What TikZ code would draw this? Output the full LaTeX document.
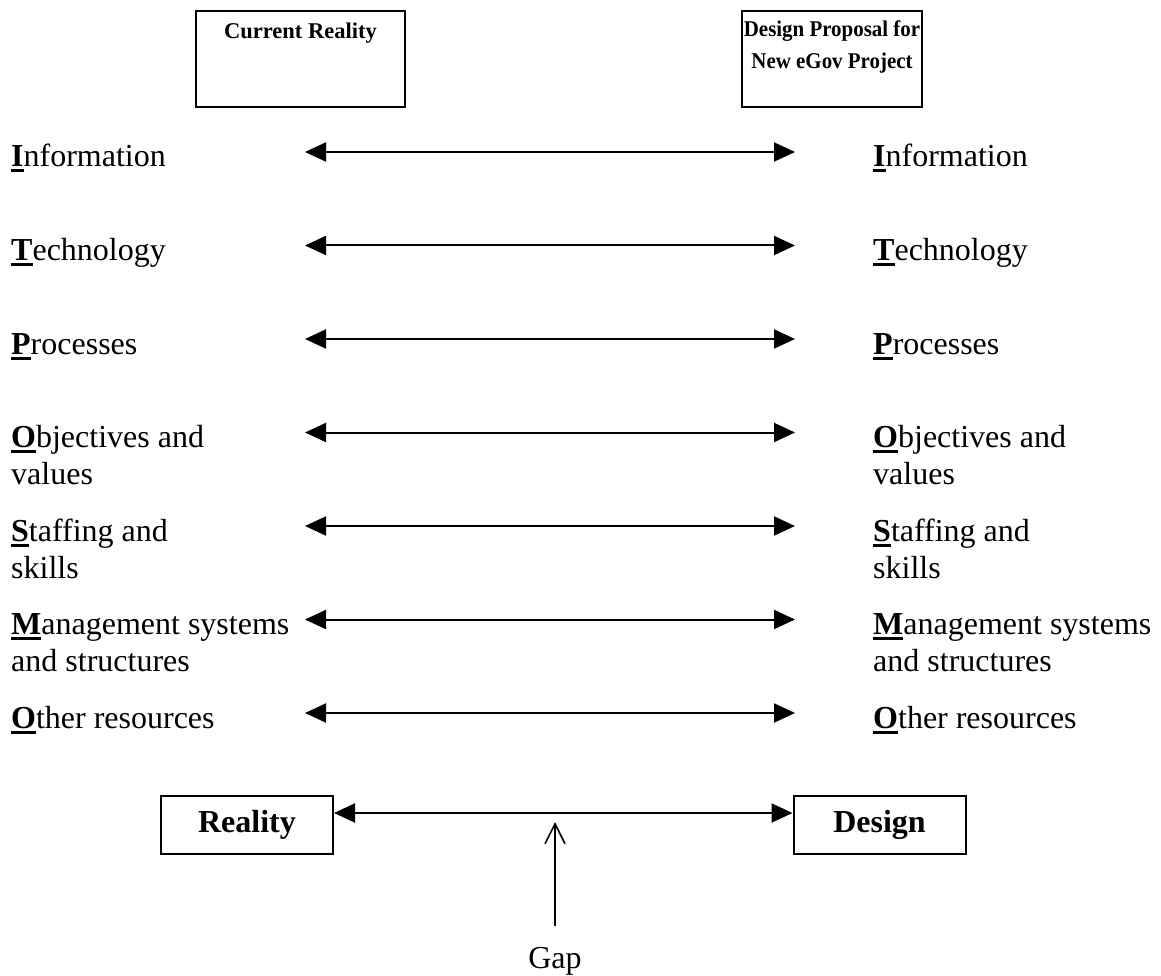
\documentclass[tikz,border=0pt]{standalone}
\usepackage{fontspec}
\setmainfont{Liberation Serif}
\usetikzlibrary{arrows.meta}
\newcommand\fl[1]{\setbox0=\hbox{\textbf{#1}}\rlap{\rule[-5.5pt]{\wd0}{3pt}}\box0}
\newcommand\twol[2]{\begin{tabular}[t]{@{}l@{}}#1\\#2\end{tabular}}
\begin{document}
\begin{tikzpicture}[x=1pt,y=-1pt,
  lbl/.style={anchor=base west, inner sep=0pt, font=\fontsize{32pt}{37pt}\selectfont},
  toplbl/.style={anchor=base, inner sep=0pt, font=\fontsize{22.5pt}{27pt}\selectfont\bfseries},
  dbl/.style={{Triangle[length=21pt,width=19pt]}-{Triangle[length=21pt,width=19pt]}, line width=2pt},
  frame/.style={draw, line width=2pt, inner sep=0pt},
  botbox/.style={draw, line width=2pt, inner sep=0pt, minimum width=172pt, minimum height=58pt, font=\fontsize{32pt}{37pt}\selectfont\bfseries},
  gaparrow/.style={-{Straight Barb[length=20pt,width=20pt]}, line width=1.6pt}
]
\useasboundingbox (0,0) rectangle (1161,976);

% top boxes
\node[frame, minimum width=209pt, minimum height=96pt, anchor=north west] (crbox) at (195,10) {};
\node[toplbl] (crtext) at (crbox.north |- 0,39) {Current Reality};
\node[frame, minimum width=180pt, minimum height=96pt, anchor=north west] (dpbox) at (741,10) {};
\node[toplbl, xscale=0.93] (dptext1) at (dpbox.north |- 0,37) {Design Proposal for};
\node[toplbl, xscale=0.93] (dptext2) at (dpbox.north |- 0,69) {New eGov Project};

% left labels
\node[lbl] (l1) at (11,167) {\fl{I}nformation};
\node[lbl] (l2) at (11,260.5) {\fl{T}echnology};
\node[lbl] (l3) at (11,354) {\fl{P}rocesses};
\node[lbl] (l4) at (11,447.5) {\twol{\fl{O}bjectives and}{values}};
\node[lbl] (l5) at (11,541) {\twol{\fl{S}taffing and}{skills}};
\node[lbl] (l6) at (11,634.5) {\twol{\fl{M}anagement systems}{and structures}};
\node[lbl] (l7) at (11,728) {\fl{O}ther resources};

% right labels
\node[lbl] (r1) at (873,167) {\fl{I}nformation};
\node[lbl] (r2) at (873,260.5) {\fl{T}echnology};
\node[lbl] (r3) at (873,354) {\fl{P}rocesses};
\node[lbl] (r4) at (873,447.5) {\twol{\fl{O}bjectives and}{values}};
\node[lbl] (r5) at (873,541) {\twol{\fl{S}taffing and}{skills}};
\node[lbl] (r6) at (873,634.5) {\twol{\fl{M}anagement systems}{and structures}};
\node[lbl] (r7) at (873,728) {\fl{O}ther resources};

% row arrows
\foreach \i/\y in {1/152,2/245.5,3/339,4/432.5,5/526,6/619.5,7/713}{
  \coordinate (al\i) at (305,\y);
  \coordinate (ar\i) at (795,\y);
  \draw[dbl] (al\i) -- (ar\i);
}

% bottom boxes
\node[botbox] (reality) at (247,825) {Reality};
\node[botbox] (design) at (879.5,825) {Design};
\draw[dbl] ([yshift=12pt]reality.east) -- ([yshift=12pt]design.west);

% gap
\node[lbl, anchor=base] (gap) at (555,968) {Gap};
\coordinate (gaptip) at (555,822);
\draw[gaparrow] ([yshift=21pt]gap.north) -- (gaptip);
\end{tikzpicture}
\end{document}
